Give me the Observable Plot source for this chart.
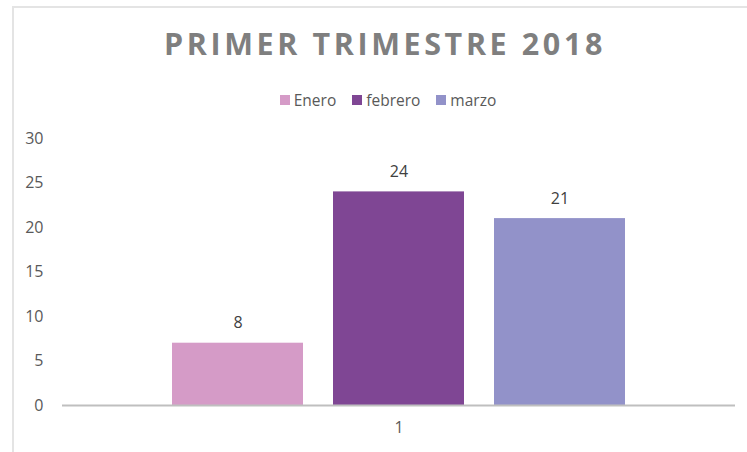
<!DOCTYPE html>
<html>
<head>
<meta charset="utf-8">
<script src="https://cdn.jsdelivr.net/npm/d3@7"></script>
<script src="https://cdn.jsdelivr.net/npm/@observablehq/plot@0.6"></script>
<style>
  html, body { margin:0; padding:0; background:#fff; width:747px; height:452px; overflow:hidden; font-family:"Open Sans", sans-serif; }
  #frame { position:absolute; left:12px; top:6px; width:760px; height:460px; border-left:2px solid #e4e4e4; border-top:2px solid #e4e4e4; }
  #title { position:absolute; left:0; top:23px; width:770px; text-align:center; font-weight:700; font-size:30.5px; letter-spacing:3.6px; color:#7f7f7f; line-height:40px; white-space:nowrap; }
  #legend { position:absolute; left:0; top:90px; width:776px; display:flex; justify-content:center; gap:16px; font-size:15.5px; color:#595959; line-height:20px; }
  #legend span.item { display:flex; align-items:center; gap:4px; }
  #legend span.sw { display:inline-block; width:10px; height:10px; }
  #chart { position:absolute; left:0; top:120px; }
</style>
</head>
<body>
<div id="frame"></div>
<div id="title"></div>
<div id="legend"></div>
<div id="chart"></div>
<script>
const titleText = "PRIMER TRIMESTRE 2018";
const categories = ["1"];
const months = ["Enero", "febrero", "marzo"];
const barValues = [7, 24, 21];
const barLabels = ["8", "24", "21"];
const colors = ["#d59bc7", "#7f4694", "#9292c9"];
const yTicks = [0, 5, 10, 15, 20, 25, 30];

document.getElementById("title").textContent = titleText;
const legend = document.getElementById("legend");
months.forEach((m, i) => {
  const item = document.createElement("span");
  item.className = "item";
  const sw = document.createElement("span");
  sw.className = "sw";
  sw.style.background = colors[i];
  const t = document.createElement("span");
  t.textContent = m;
  item.appendChild(sw); item.appendChild(t);
  legend.appendChild(item);
});

const data = months.map((m, i) => ({cat: categories[0], month: m, value: barValues[i], label: barLabels[i]}));

const chart = Plot.plot({
  width: 747,
  height: 332,
  marginLeft: 62,
  marginRight: 12,
  marginTop: 18,
  marginBottom: 47,
  style: {fontFamily: "'Open Sans', sans-serif", fontSize: "16px", color: "#595959", background: "transparent"},
  fx: {domain: categories, padding: 0, label: null},
  x: {domain: months, paddingInner: 0.186, paddingOuter: 0.677, axis: null},
  y: {domain: [0, 30], label: null},
  color: {domain: months, range: colors},
  marks: [
    Plot.axisY(yTicks, {tickSize: 0, tickPadding: 19, fontSize: 16, fill: "#595959", label: null}),
    Plot.axisFx({anchor: "bottom", tickSize: 0, tickPadding: 16, fontSize: 16, fill: "#595959", label: null}),
    Plot.barY(data, {fx: "cat", x: "month", y: "value", fill: "month"}),
    Plot.ruleY([0], {stroke: "#bfbfbf", strokeWidth: 2}),
    Plot.text(data, {fx: "cat", x: "month", y: "value", text: "label", dy: -20, fontSize: 16, fill: "#404040"})
  ]
});
document.getElementById("chart").appendChild(chart);
</script>
</body>
</html>
